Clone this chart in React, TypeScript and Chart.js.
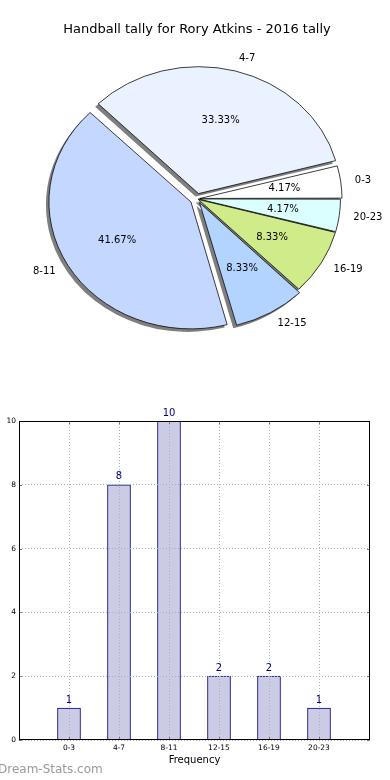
import React, { useEffect, useRef } from "react";
import { Chart, registerables } from "chart.js";
Chart.register(...registerables);

// ---- data ----
const categories = ["0-3", "4-7", "8-11", "12-15", "16-19", "20-23"];
const counts = [1, 8, 10, 2, 2, 1];
const yTicks = [0, 2, 4, 6, 8, 10];
const titleText = "Handball tally for Rory Atkins - 2016 tally";
const xTitle = "Frequency";
const watermark = "Dream-Stats.com";

// ---- styles ----
const pieColors = ["#ffffff", "#eaf1ff", "#c4d8ff", "#b3d4ff", "#d0ec8a", "#dbffff"];
const pieShift = [3, 6, 7, 5, 1.5, 1.5];
const FONT = "'DejaVu Sans', sans-serif";
const ELLIPSE_Y = 0.894;

const total = counts.reduce((a, b) => a + b, 0);

function squash(ctx: CanvasRenderingContext2D, cx: number, cy: number) {
  ctx.translate(cx, cy);
  ctx.scale(1, ELLIPSE_Y);
  ctx.translate(-cx, -cy);
}

// radius growth Chart.js applies to an offset arc when drawing
function radiusGrowth(el: any) {
  const circ = el.endAngle - el.startAngle;
  const fix = 1 - Math.sin(Math.min(Math.PI, circ));
  return ((el.options.offset || 0) / 4) * fix;
}

const piePlugin = {
  id: "pieExtras",
  afterDatasetsUpdate(chart: any) {
    const meta = chart.getDatasetMeta(0);
    meta.data.forEach((el: any) => {
      el.outerRadius = Math.max(0, el.outerRadius - radiusGrowth(el));
    });
  },
  beforeDatasetsDraw(chart: any) {
    const ctx = chart.ctx as CanvasRenderingContext2D;
    const meta = chart.getDatasetMeta(0);
    const el0: any = meta.data[0];
    const cx = el0.x, cy = el0.y;
    ctx.save();
    ctx.translate(-3, 3);
    squash(ctx, cx, cy);
    ctx.fillStyle = "rgba(0,0,0,0.5)";
    meta.data.forEach((el: any) => {
      const t = (el.options.offset || 0) / 4;
      const mid = (el.startAngle + el.endAngle) / 2;
      const x = el.x + Math.cos(mid) * t;
      const y = el.y + Math.sin(mid) * t;
      const r = el.outerRadius + radiusGrowth(el);
      ctx.beginPath();
      ctx.moveTo(x, y);
      ctx.arc(x, y, r, el.startAngle, el.endAngle);
      ctx.closePath();
      ctx.fill();
    });
    ctx.restore();
    ctx.save();
    squash(ctx, cx, cy);
  },
  afterDatasetsDraw(chart: any) {
    const ctx = chart.ctx as CanvasRenderingContext2D;
    ctx.restore();
    const meta = chart.getDatasetMeta(0);
    const labels = chart.data.labels;
    const values = chart.data.datasets[0].data;
    const el0: any = meta.data[0];
    const cy = el0.y;
    const my = (y: number) => cy + (y - cy) * ELLIPSE_Y;
    ctx.save();
    ctx.fillStyle = "#000";
    ctx.font = `10px ${FONT}`;
    ctx.textBaseline = "middle";
    meta.data.forEach((el: any, i: number) => {
      const t = (el.options.offset || 0) / 4;
      const mid = (el.startAngle + el.endAngle) / 2;
      const dx = Math.cos(mid), dy = Math.sin(mid);
      const sx = el.x + dx * t, sy = el.y + dy * t;
      const r = el.outerRadius + radiusGrowth(el);
      ctx.textAlign = "center";
      const pct = ((values[i] / total) * 100).toFixed(2) + "%";
      ctx.fillText(pct, sx + dx * r * 0.6, my(sy + dy * r * 0.6));
      ctx.textAlign = dx > 0 ? "left" : "right";
      ctx.fillText(labels[i], sx + dx * r * 1.1, my(sy + dy * r * 1.1));
    });
    ctx.restore();
  },
};

const barPlugin = {
  id: "barExtras",
  afterDraw(chart: any) {
    const ctx = chart.ctx as CanvasRenderingContext2D;
    const a = chart.chartArea;
    const L = Math.round(a.left), T = Math.round(a.top), R = Math.round(a.right), B = Math.round(a.bottom);
    ctx.save();
    // small inward tick marks
    ctx.strokeStyle = "#777";
    ctx.lineWidth = 1;
    ctx.beginPath();
    const xs = chart.scales.x, ys = chart.scales.y;
    xs.ticks.forEach((tk: any) => {
      const px = Math.round(xs.getPixelForValue(tk.value)) + 0.5;
      ctx.moveTo(px, B - 3);
      ctx.lineTo(px, B);
      ctx.moveTo(px, T);
      ctx.lineTo(px, T + 3);
    });
    ys.ticks.forEach((tk: any) => {
      const py = Math.round(ys.getPixelForValue(tk.value)) + 0.5;
      ctx.moveTo(L, py);
      ctx.lineTo(L + 3, py);
      ctx.moveTo(R - 3, py);
      ctx.lineTo(R, py);
    });
    ctx.stroke();
    // frame
    ctx.strokeStyle = "#000";
    ctx.strokeRect(L + 0.5, T + 0.5, R - L - 1, B - T - 1);
    // value labels
    const meta = chart.getDatasetMeta(0);
    const data = chart.data.datasets[0].data;
    ctx.fillStyle = "#000080";
    ctx.font = `10px ${FONT}`;
    ctx.textAlign = "center";
    ctx.textBaseline = "bottom";
    meta.data.forEach((el: any, i: number) => {
      ctx.fillText(String(data[i].y), el.x, el.y - 3);
    });
    // watermark
    ctx.fillStyle = "#999999";
    ctx.font = `12px ${FONT}`;
    ctx.textAlign = "left";
    ctx.textBaseline = "middle";
    ctx.fillText(watermark, -2, 370);
    ctx.restore();
  },
};

export default function App() {
  const pieRef = useRef<HTMLCanvasElement>(null);
  const barRef = useRef<HTMLCanvasElement>(null);

  useEffect(() => {
    document.body.style.margin = "0";
    const pieLabels = [...categories].reverse();
    const pieValues = [...counts].reverse();
    const pieBg = [...pieColors].reverse();
    const pieOff = [...pieShift].reverse().map((v) => v * 4);

    const pie = new Chart(pieRef.current!, {
      type: "pie",
      data: {
        labels: pieLabels,
        datasets: [
          {
            data: pieValues,
            backgroundColor: pieBg,
            borderColor: "#000",
            borderWidth: 0.8,
            offset: pieOff,
            rotation: 90,
            radius: 142,
          } as any,
        ],
      },
      options: {
        responsive: false,
        animation: false,
        rotation: 90,
        radius: 142,
        layout: { padding: { left: 4, right: 0, top: 0, bottom: 0 } },
        plugins: {
          legend: { display: false },
          tooltip: { enabled: false },
          title: {
            display: true,
            text: titleText,
            color: "#000",
            font: { family: FONT, size: 13, weight: "normal" },
            padding: { top: 22, bottom: 0 },
          },
        },
      } as any,
      plugins: [piePlugin],
    });

    const tickFont = { family: FONT, size: 7.5 };
    const bar = new Chart(barRef.current!, {
      type: "bar",
      data: {
        datasets: [
          {
            data: categories.map((c, i) => ({ x: i, y: counts[i] })),
            backgroundColor: "#cbcbe5",
            borderColor: "#000080",
            borderWidth: 1,
            barThickness: 23,
          } as any,
        ],
      },
      options: {
        responsive: false,
        animation: false,
        layout: { padding: { top: 21, right: 20, left: 0, bottom: 0 } },
        plugins: { legend: { display: false }, tooltip: { enabled: false } },
        scales: {
          x: {
            type: "linear",
            min: -1,
            max: 6.02,
            offset: false,
            afterBuildTicks: (s: any) => {
              s.ticks = categories.map((_, i) => ({ value: i }));
            },
            afterFit: (s: any) => {
              s.height = 40;
            },
            ticks: {
              callback: (v: any) => categories[v] ?? "",
              font: tickFont,
              color: "#000",
              padding: 4,
              maxRotation: 0,
              autoSkip: false,
            },
            grid: { color: "#b0b0b0", drawTicks: false, z: 1, offset: false },
            border: { display: false, dash: [1, 2] },
            title: {
              display: true,
              text: xTitle,
              color: "#000",
              font: { family: FONT, size: 10 },
              padding: { top: 0, bottom: 14 },
            },
          },
          y: {
            min: 0,
            max: 10,
            afterBuildTicks: (s: any) => {
              s.ticks = yTicks.map((v) => ({ value: v }));
            },
            afterFit: (s: any) => {
              s.width = 19;
            },
            ticks: { font: tickFont, color: "#000", padding: 3 },
            grid: { color: "#b0b0b0", drawTicks: false, z: 1 },
            border: { display: false, dash: [1, 2] },
          },
        },
      } as any,
      plugins: [barPlugin],
    });

    return () => {
      pie.destroy();
      bar.destroy();
    };
  }, []);

  return (
    <div style={{ position: "relative", width: 390, height: 780, background: "#fff" }}>
      <canvas ref={pieRef} width={390} height={360} style={{ position: "absolute", left: 0, top: 0 }} />
      <canvas ref={barRef} width={390} height={380} style={{ position: "absolute", left: 0, top: 400 }} />
    </div>
  );
}
